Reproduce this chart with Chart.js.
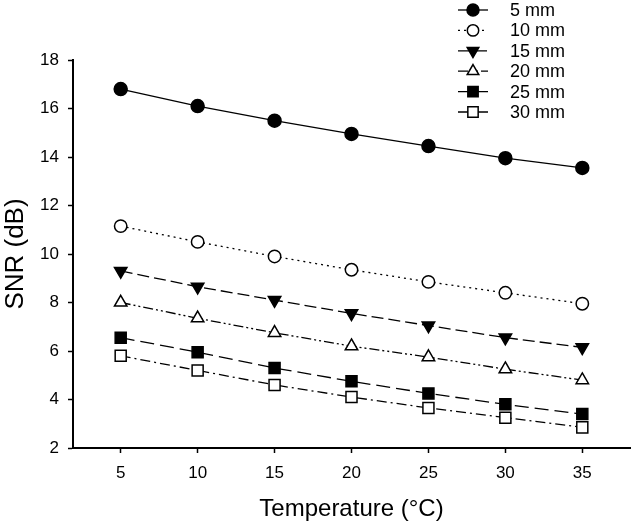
<!DOCTYPE html>
<html>
<head>
<meta charset="utf-8">
<script src="https://cdn.jsdelivr.net/npm/chart.js@4.4.1/dist/chart.umd.min.js"></script>
<style>
html,body{margin:0;padding:0;background:#fff;}
#wrap{width:633px;height:527px;}
</style>
</head>
<body>
<div id="wrap"><canvas id="c" width="633" height="527"></canvas></div>
<script>
const temperatures = [5, 10, 15, 20, 25, 30, 35];
const seriesNames = ['5 mm', '10 mm', '15 mm', '20 mm', '25 mm', '30 mm'];
const snr5 = [16.8, 16.1, 15.5, 14.95, 14.45, 13.95, 13.55];
const snr10 = [11.15, 10.5, 9.9, 9.35, 8.85, 8.4, 7.95];
const snr15 = [9.3, 8.65, 8.1, 7.55, 7.05, 6.55, 6.15];
const snr20 = [8.0, 7.35, 6.75, 6.2, 5.75, 5.25, 4.8];
const snr25 = [6.55, 5.95, 5.3, 4.75, 4.25, 3.8, 3.4];
const snr30 = [5.8, 5.2, 4.6, 4.1, 3.65, 3.25, 2.85];
const xTickValues = [5, 10, 15, 20, 25, 30, 35];
const yTickValues = [2, 4, 6, 8, 10, 12, 14, 16, 18];

const FONT = "'Liberation Sans', Arial, sans-serif";
const styles = [
  {dash: [], style: 'circle', fill: '#000', rot: 0, r: 6.5},
  {dash: [2, 4], style: 'circle', fill: '#fff', rot: 0, r: 6.2},
  {dash: [12, 5], style: 'triangle', fill: '#000', rot: 180, r: 7.2},
  {dash: [10, 3, 2, 3, 2, 3], style: 'triangle', fill: '#fff', rot: 0, r: 7.2},
  {dash: [14, 6], style: 'rect', fill: '#000', rot: 0, r: 7.8},
  {dash: [10, 4, 2, 4], style: 'rect', fill: '#fff', rot: 0, r: 7.8}
];
const allSeries = [snr5, snr10, snr15, snr20, snr25, snr30];

const datasets = allSeries.map((vals, i) => ({
  label: seriesNames[i],
  data: temperatures.map((t, j) => ({x: t, y: vals[j]})),
  borderColor: '#000',
  borderWidth: 1.3,
  borderDash: styles[i].dash,
  backgroundColor: styles[i].fill,
  pointBackgroundColor: styles[i].fill,
  pointBorderColor: '#000',
  pointBorderWidth: 1.5,
  pointStyle: styles[i].style,
  pointRotation: styles[i].rot,
  pointRadius: styles[i].r,
  tension: 0,
  fill: false,
  clip: false
}));

const legendPlugin = {
  id: 'customLegend',
  afterDraw(chart) {
    const ctx = chart.ctx;
    const x0 = 458, x1 = 488, tx = 510;
    chart.data.datasets.forEach((ds, i) => {
      const y = 10 + i * 20.4;
      ctx.save();
      ctx.strokeStyle = '#000';
      ctx.lineWidth = ds.borderWidth;
      ctx.setLineDash(ds.borderDash);
      ctx.beginPath();
      ctx.moveTo(x0, y);
      ctx.lineTo(x1, y);
      ctx.stroke();
      ctx.setLineDash([]);
      ctx.fillStyle = ds.pointBackgroundColor;
      ctx.strokeStyle = '#000';
      ctx.lineWidth = ds.pointBorderWidth;
      Chart.helpers.drawPoint(ctx, {pointStyle: ds.pointStyle, rotation: ds.pointRotation, radius: ds.pointRadius - 0.5, borderWidth: ds.pointBorderWidth}, (x0 + x1) / 2, y);
      ctx.fillStyle = '#000';
      ctx.font = '18px ' + FONT;
      ctx.textBaseline = 'middle';
      ctx.textAlign = 'left';
      ctx.fillText(ds.label, tx, y + 1);
      ctx.restore();
    });
  }
};

new Chart(document.getElementById('c'), {
  type: 'line',
  data: {datasets},
  plugins: [legendPlugin],
  options: {
    responsive: false,
    animation: false,
    layout: {autoPadding: false, padding: {top: 60, right: 3, left: 0, bottom: 0}},
    plugins: {legend: {display: false}, tooltip: {enabled: false}},
    scales: {
      x: {
        type: 'linear',
        min: 1.9,
        max: 38.1,
        afterBuildTicks(axis) { axis.ticks = xTickValues.map(v => ({value: v})); },
        afterFit(axis) { axis.height = 79; axis.paddingLeft = 0; axis.paddingRight = 0; },
        grid: {drawOnChartArea: false, drawTicks: true, tickLength: 5, tickColor: '#000', tickWidth: 1.5},
        border: {display: true, color: '#000', width: 2},
        ticks: {color: '#000', font: {family: FONT, size: 17}, padding: 10},
        title: {display: true, text: 'Temperature (°C)', color: '#000', font: {family: FONT, size: 24}, padding: {top: 0, bottom: 3}}
      },
      y: {
        type: 'linear',
        min: 2,
        max: 18,
        afterBuildTicks(axis) { axis.ticks = yTickValues.map(v => ({value: v})); },
        afterFit(axis) { axis.width = 73; axis.paddingTop = 0; axis.paddingBottom = 0; },
        grid: {drawOnChartArea: false, drawTicks: true, tickLength: 5, tickColor: '#000', tickWidth: 1.5},
        border: {display: true, color: '#000', width: 2},
        ticks: {color: '#000', font: {family: FONT, size: 17}, padding: 9},
        title: {display: true, text: 'SNR (dB)', color: '#000', font: {family: FONT, size: 26}, padding: {top: 0, bottom: 0}}
      }
    }
  }
});
</script>
</body>
</html>
